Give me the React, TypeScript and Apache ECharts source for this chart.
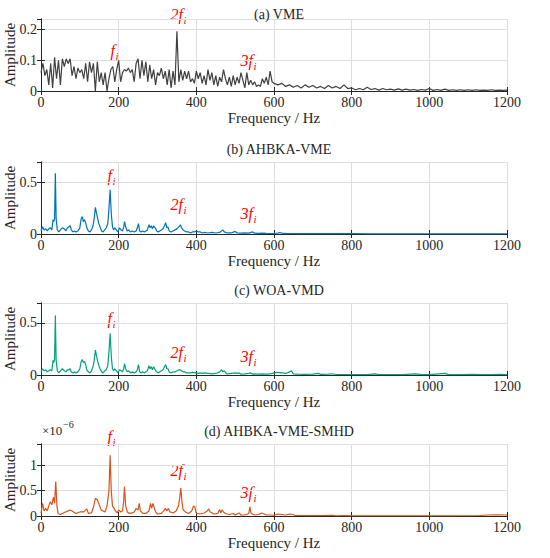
import React, { useEffect, useRef } from "react";
import * as echarts from "echarts";

// ---------- data ----------
const xTicks = [0, 200, 400, 600, 800, 1000, 1200];
const titles = ["(a) VME", "(b) AHBKA-VME", "(c) WOA-VMD", "(d) AHBKA-VME-SMHD"];
const colors = ["#404040", "#0072BD", "#00A37A", "#D95319"];
const yMax = [0.235, 0.7, 0.69, 1.42];
const yInterval = [0.1, 0.5, 0.5, 0.5];

// (a) VME: 0-600 Hz every 5 Hz, then 610-1200 Hz every 10 Hz
const ampA_low = [
  0.06, 0.09, 0.05, 0.07, 0.02, 0.09, 0.01, 0.11, 0.04, 0.1, 0.02, 0.105, 0.08, 0.105, 0.09, 0.105,
  0.05, 0.08, 0.04, 0.075, 0.06, 0.07, 0.04, 0.09, 0.03, 0.095, 0.06, 0.09, 0.0, 0.095, 0.03, 0.06,
  0.02, 0.06, 0.0, 0.04, 0.07, 0.08, 0.03, 0.07, 0.1, 0.03, 0.06, 0.07, 0.065, 0.075, 0.06, 0.07,
  0.03, 0.09, 0.105, 0.04, 0.1, 0.05, 0.095, 0.03, 0.085, 0.04, 0.07, 0.02, 0.06, 0.05, 0.075, 0.04,
  0.065, 0.02, 0.07, 0.01, 0.065, 0.02, 0.195, 0.03, 0.07, 0.035, 0.065, 0.04, 0.065, 0.03, 0.04, 0.025,
  0.065, 0.04, 0.06, 0.025, 0.05, 0.02, 0.07, 0.035, 0.06, 0.02, 0.05, 0.015, 0.045, 0.03, 0.07, 0.04,
  0.02, 0.045, 0.015, 0.05, 0.02, 0.045, 0.025, 0.06, 0.035, 0.01, 0.06, 0.02, 0.035, 0.02, 0.03, 0.015,
  0.02, 0.015, 0.04, 0.025, 0.045, 0.02, 0.065, 0.03, 0.025,
];
const ampA_high = [
  0.02, 0.025, 0.015, 0.02, 0.012, 0.018, 0.01, 0.02, 0.012, 0.018, 0.01, 0.015, 0.008, 0.018, 0.01,
  0.015, 0.008, 0.02, 0.008, 0.01, 0.004, 0.008, 0.004, 0.012, 0.005, 0.008, 0.003, 0.008, 0.004, 0.006,
  0.003, 0.007, 0.003, 0.006, 0.003, 0.005, 0.002, 0.005, 0.003, 0.008, 0.002, 0.005, 0.002, 0.006, 0.002,
  0.004, 0.002, 0.004, 0.002, 0.004, 0.002, 0.004, 0.002, 0.003, 0.002, 0.004, 0.002, 0.003, 0.002, 0.003,
];

// (b) AHBKA-VME
const freqB = [
  0, 4, 8, 12, 16, 20, 24, 28, 31, 33, 35, 37, 39, 42, 46, 50, 55, 60, 64, 68, 72, 75, 78, 82, 86, 90, 95,
  100, 103, 106, 109, 112, 115, 118, 122, 126, 130, 134, 137, 140, 143, 146, 149, 152, 156, 160, 164, 168,
  172, 175, 178, 181, 184, 187, 190, 194, 198, 202, 206, 210, 213, 215, 218, 222, 226, 230, 235, 240, 245,
  248, 251, 254, 258, 262, 266, 270, 274, 278, 281, 284, 287, 290, 294, 298, 302, 306, 310, 314, 318, 321,
  324, 327, 330, 335, 340, 345, 350, 355, 359, 362, 366, 370, 375, 380, 385, 390, 395, 400, 405, 410, 415,
  420, 430, 440, 450, 460, 468, 472, 480, 490, 500, 505, 515, 525, 535, 545, 550, 560, 570, 580, 590, 600,
  610, 615, 620, 630, 640, 660, 680, 700, 720, 740, 760, 780, 800, 850, 900, 950, 1000, 1050, 1100, 1150, 1200,
];
const ampB = [
  0.03, 0.07, 0.04, 0.05, 0.03, 0.05, 0.06, 0.04, 0.14, 0.12, 0.15, 0.59, 0.15, 0.04, 0.02, 0.04, 0.06,
  0.05, 0.03, 0.06, 0.07, 0.08, 0.04, 0.02, 0.03, 0.02, 0.03, 0.06, 0.14, 0.17, 0.12, 0.14, 0.11, 0.06,
  0.03, 0.02, 0.04, 0.08, 0.15, 0.26, 0.2, 0.15, 0.1, 0.07, 0.03, 0.02, 0.04, 0.06, 0.1, 0.25, 0.43, 0.2,
  0.07, 0.04, 0.06, 0.04, 0.02, 0.06, 0.04, 0.03, 0.07, 0.12, 0.07, 0.03, 0.04, 0.02, 0.03, 0.02, 0.03,
  0.06, 0.1, 0.03, 0.02, 0.03, 0.02, 0.03, 0.04, 0.09, 0.06, 0.08, 0.05, 0.08, 0.06, 0.03, 0.02, 0.03,
  0.04, 0.05, 0.08, 0.11, 0.06, 0.07, 0.03, 0.02, 0.03, 0.04, 0.05, 0.07, 0.09, 0.06, 0.04, 0.03, 0.02,
  0.02, 0.01, 0.02, 0.02, 0.03, 0.02, 0.02, 0.01, 0.015, 0.01, 0.015, 0.01, 0.015, 0.04, 0.02, 0.01, 0.01,
  0.025, 0.01, 0.008, 0.01, 0.008, 0.02, 0.008, 0.006, 0.008, 0.006, 0.005, 0.006, 0.008, 0.015, 0.008,
  0.006, 0.005, 0.004, 0.005, 0.004, 0.003, 0.004, 0.003, 0.003, 0.003, 0.002, 0.002, 0.002, 0.002, 0.002,
  0.002, 0.002, 0.002,
];

// (c) WOA-VMD
const freqC = [
  0, 4, 8, 12, 16, 20, 24, 28, 31, 33, 35, 37, 39, 42, 46, 50, 55, 60, 64, 68, 72, 75, 78, 82, 86, 90, 95,
  100, 103, 106, 109, 112, 115, 118, 122, 126, 130, 134, 137, 140, 143, 146, 149, 152, 156, 160, 164, 168,
  172, 175, 178, 181, 184, 187, 190, 194, 198, 202, 206, 210, 213, 215, 218, 222, 226, 230, 235, 240, 245,
  248, 251, 254, 258, 262, 266, 270, 274, 278, 281, 284, 287, 290, 294, 298, 302, 306, 310, 314, 318, 321,
  324, 327, 330, 335, 340, 345, 350, 355, 359, 362, 366, 370, 375, 380, 385, 390, 395, 400, 405, 410, 415,
  420, 430, 440, 450, 460, 465, 468, 472, 476, 480, 490, 500, 505, 510, 515, 525, 535, 540, 545, 550, 560,
  570, 580, 590, 600, 610, 620, 630, 640, 645, 650, 660, 680, 700, 715, 720, 740, 750, 760, 780, 800, 820,
  840, 860, 870, 900, 930, 965, 980, 1000, 1040, 1050, 1080, 1110, 1140, 1160, 1185, 1200,
];
const ampC = [
  0.03, 0.06, 0.04, 0.05, 0.03, 0.04, 0.05, 0.04, 0.14, 0.12, 0.15, 0.57, 0.14, 0.04, 0.02, 0.04, 0.06,
  0.04, 0.03, 0.05, 0.05, 0.06, 0.03, 0.02, 0.03, 0.02, 0.03, 0.06, 0.12, 0.15, 0.12, 0.13, 0.1, 0.05,
  0.03, 0.02, 0.04, 0.08, 0.14, 0.24, 0.18, 0.13, 0.09, 0.06, 0.03, 0.02, 0.04, 0.05, 0.09, 0.22, 0.4,
  0.18, 0.06, 0.04, 0.06, 0.04, 0.02, 0.05, 0.04, 0.03, 0.06, 0.11, 0.06, 0.03, 0.04, 0.02, 0.03, 0.02,
  0.03, 0.05, 0.1, 0.03, 0.02, 0.03, 0.02, 0.03, 0.04, 0.09, 0.06, 0.08, 0.05, 0.08, 0.05, 0.03, 0.02,
  0.03, 0.04, 0.05, 0.08, 0.1, 0.06, 0.06, 0.03, 0.02, 0.03, 0.03, 0.04, 0.05, 0.05, 0.04, 0.03, 0.03,
  0.02, 0.02, 0.02, 0.025, 0.02, 0.02, 0.015, 0.02, 0.015, 0.02, 0.015, 0.01, 0.015, 0.03, 0.05, 0.03,
  0.04, 0.02, 0.01, 0.015, 0.02, 0.015, 0.02, 0.008, 0.01, 0.015, 0.02, 0.008, 0.01, 0.008, 0.01, 0.008,
  0.01, 0.02, 0.025, 0.02, 0.015, 0.03, 0.04, 0.01, 0.008, 0.006, 0.008, 0.015, 0.006, 0.008, 0.012,
  0.005, 0.005, 0.004, 0.005, 0.004, 0.01, 0.004, 0.004, 0.004, 0.01, 0.004, 0.004, 0.015, 0.004, 0.003,
  0.006, 0.003, 0.004, 0.006, 0.003,
];

// (d) AHBKA-VME-SMHD, amplitude in units of 1e-6
const freqD = [
  0, 4, 8, 12, 16, 20, 24, 28, 32, 35, 38, 41, 44, 50, 60, 70, 75, 80, 90, 100, 110, 118, 122, 130, 136,
  140, 145, 150, 155, 160, 165, 170, 175, 178, 181, 184, 188, 192, 196, 200, 205, 210, 213, 215, 218, 222,
  228, 235, 240, 245, 250, 253, 256, 262, 270, 278, 282, 285, 288, 291, 295, 300, 310, 316, 320, 324, 328,
  332, 340, 348, 354, 357, 360, 363, 366, 372, 380, 388, 393, 396, 400, 410, 420, 428, 432, 436, 445, 455,
  460, 463, 466, 470, 475, 485, 495, 500, 510, 515, 525, 535, 538, 541, 550, 560, 568, 572, 580, 590, 600,
  610, 620, 630, 640, 648, 655, 670, 690, 710, 730, 750, 760, 780, 800, 850, 900, 950, 1000, 1050, 1100,
  1130, 1150, 1170, 1200,
];
const ampD = [
  0.05, 0.25, 0.1, 0.15, 0.1, 0.2, 0.28, 0.22, 0.37, 0.25, 0.68, 0.2, 0.05, 0.03, 0.07, 0.1, 0.12, 0.1,
  0.05, 0.08, 0.08, 0.14, 0.05, 0.06, 0.2, 0.35, 0.32, 0.22, 0.12, 0.1, 0.08, 0.2, 0.5, 1.2, 0.5, 0.2,
  0.15, 0.1, 0.06, 0.12, 0.08, 0.1, 0.3, 0.58, 0.2, 0.08, 0.05, 0.06, 0.08, 0.15, 0.12, 0.25, 0.1, 0.05,
  0.05, 0.1, 0.25, 0.15, 0.25, 0.18, 0.08, 0.04, 0.05, 0.1, 0.15, 0.1, 0.15, 0.08, 0.06, 0.1, 0.2, 0.35,
  0.55, 0.28, 0.12, 0.08, 0.05, 0.1, 0.2, 0.18, 0.05, 0.04, 0.06, 0.1, 0.14, 0.08, 0.04, 0.05, 0.13, 0.06,
  0.12, 0.08, 0.05, 0.03, 0.05, 0.02, 0.06, 0.02, 0.02, 0.05, 0.18, 0.05, 0.02, 0.03, 0.06, 0.05, 0.02,
  0.02, 0.015, 0.04, 0.03, 0.02, 0.04, 0.03, 0.01, 0.01, 0.008, 0.01, 0.01, 0.012, 0.005, 0.006, 0.004,
  0.003, 0.003, 0.002, 0.002, 0.003, 0.005, 0.01, 0.02, 0.025, 0.02,
];

// ---------- layout ----------
const FONT = "Liberation Serif, serif";
const TXT = "#262626";
const gridLeft = 41;
const gridWidth = 466;
const gridTops = [19, 162, 303, 444];
const gridHeight = 72;
const titleTops = [2, 137, 278, 419];

function sampleGrid(start: number, end: number, step: number) {
  const out: number[] = [];
  for (let f = start; f <= end + 1e-9; f += step) out.push(f);
  return out;
}

const freqA = [...sampleGrid(0, 600, 5), ...sampleGrid(610, 1200, 10)];
const ampA = [...ampA_low, ...ampA_high];

const seriesFreq = [freqA, freqB, freqC, freqD];
const seriesAmp = [ampA, ampB, ampC, ampD];

// harmonic labels: [text, right x, center y]
const harmonics: [string, number, number][] = [
  ["f", 115, 50], ["2f", 183, 14], ["3f", 253, 60],
  ["f", 112, 175], ["2f", 183, 204], ["3f", 253, 213],
  ["f", 112, 318], ["2f", 183, 352], ["3f", 253, 356],
  ["f", 112, 436], ["2f", 183, 470], ["3f", 253, 492],
];

const fmt = (v: number) => "{s|" + String(Math.round(v * 1000) / 1000) + "}";
const tickRich = { s: { fontFamily: FONT, fontSize: 14, color: TXT } };
const nameRich = { n: { fontFamily: FONT, fontSize: 15, color: TXT } };

export default function App() {
  const ref = useRef<HTMLDivElement>(null);
  useEffect(() => {
    document.body.style.margin = "0";
    if (!ref.current) return;
    const chart = echarts.init(ref.current, undefined, { renderer: "svg" });

    const grid = gridTops.map((t) => ({
      left: gridLeft, width: gridWidth, top: t, height: gridHeight,
      containLabel: false, outerBoundsMode: "none",
    }));
    const xAxis: any[] = [];
    const yAxis: any[] = [];
    const series: any[] = [];
    gridTops.forEach((_, k) => {
      const line = { show: true, lineStyle: { color: TXT, width: 1 } };
      const tick = { show: true, inside: true, length: 4, lineStyle: { color: TXT, width: 1 } };
      xAxis.push({
        type: "value", gridIndex: k, min: xTicks[0], max: xTicks[xTicks.length - 1], interval: 200,
        position: "bottom",
        name: "{n|Frequency / Hz}", nameLocation: "middle", nameGap: 19, nameMoveOverlap: false,
        nameTextStyle: { fontFamily: FONT, fontSize: 15, color: TXT, rich: nameRich },
        axisLine: line, axisTick: tick,
        axisLabel: { fontFamily: FONT, fontSize: 14, color: TXT, margin: 4, formatter: fmt, rich: tickRich },
        splitLine: { show: true, lineStyle: { color: "#dedede", width: 1 } },
      });
      xAxis.push({
        type: "value", gridIndex: k, min: 0, max: 1200, interval: 200, position: "top",
        axisLine: line, axisTick: tick, axisLabel: { show: false }, splitLine: { show: false },
      });
      yAxis.push({
        type: "value", gridIndex: k, min: 0, max: yMax[k], interval: yInterval[k], position: "left",
        name: "{n|Amplitude}", nameLocation: "middle", nameGap: 24, nameMoveOverlap: false,
        nameTextStyle: { fontFamily: FONT, fontSize: 15, color: TXT, rich: nameRich },
        axisLine: line, axisTick: tick,
        axisLabel: { fontFamily: FONT, fontSize: 14, color: TXT, margin: 4, showMaxLabel: false, formatter: fmt, rich: tickRich },
        splitLine: { show: true, lineStyle: { color: "#dedede", width: 1 } },
      });
      yAxis.push({
        type: "value", gridIndex: k, min: 0, max: yMax[k], interval: yInterval[k], position: "right",
        axisLine: line, axisTick: tick, axisLabel: { show: false }, splitLine: { show: false },
      });
      series.push({
        type: "line", xAxisIndex: 2 * k, yAxisIndex: 2 * k, showSymbol: false, symbol: "none",
        lineStyle: { color: colors[k], width: 1.2 },
        data: seriesFreq[k].map((f, i) => [f, seriesAmp[k][i]]),
      });
    });

    const graphic: any[] = [];
    harmonics.forEach(([t, x, y]) => {
      graphic.push({
        type: "text", x, y,
        style: { text: t, fontFamily: FONT, fontStyle: "italic", fontSize: 16, fill: "#FF0000", align: "right", verticalAlign: "middle" },
      });
      graphic.push({
        type: "text", x: x + 0.5, y: y + 6,
        style: { text: "i", fontFamily: FONT, fontStyle: "italic", fontSize: 11, fill: "#FF0000", align: "left", verticalAlign: "middle" },
      });
    });
    graphic.push({
      type: "text", x: 42, y: 430,
      style: { text: "×10", fontFamily: FONT, fontSize: 13, fill: TXT, align: "left", verticalAlign: "middle" },
    });
    graphic.push({
      type: "text", x: 63, y: 424,
      style: { text: "−6", fontFamily: FONT, fontSize: 10, fill: TXT, align: "left", verticalAlign: "middle" },
    });

    chart.setOption({
      animation: false,
      backgroundColor: "#ffffff",
      textStyle: { fontFamily: FONT },
      title: titles.map((t, k) => ({
        text: t, left: gridLeft + gridWidth / 2, top: titleTops[k], textAlign: "center",
        textStyle: { fontFamily: FONT, fontSize: 14, fontWeight: "normal", color: TXT },
      })),
      grid, xAxis, yAxis, series, graphic,
    });
    return () => chart.dispose();
  }, []);
  return <div ref={ref} style={{ width: 550, height: 558 }} />;
}
